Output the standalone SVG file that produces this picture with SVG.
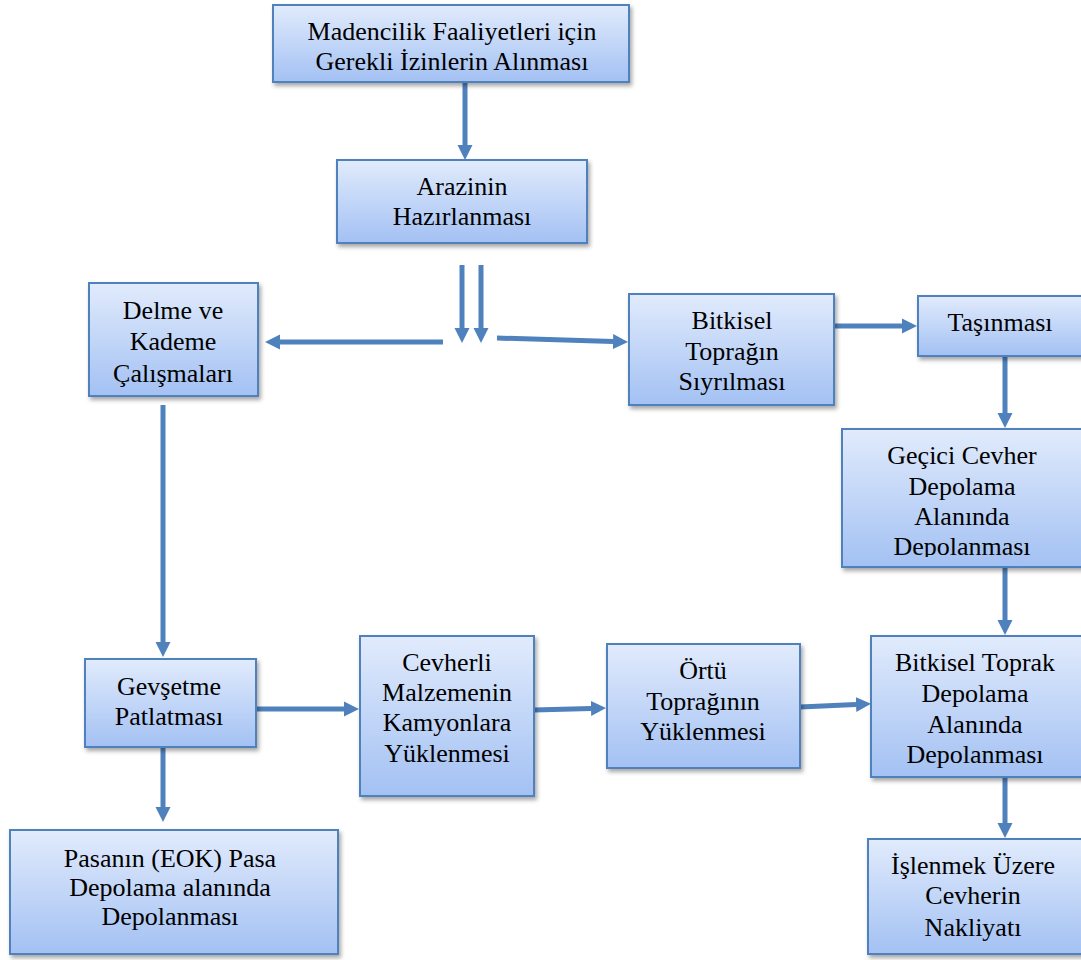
<svg xmlns="http://www.w3.org/2000/svg" width="1081" height="960" viewBox="0 0 1081 960">
  <style>
    .box { fill: url(#boxFill); stroke: #4f81bd; stroke-width: 2; filter: url(#shadow); }
    .lbl { font-size: 26px; fill: #000; text-anchor: middle; }
    .link { fill: none; stroke: #4f81bd; stroke-width: 5; marker-end: url(#head); }
  </style>
  <defs>
    <linearGradient id="boxFill" x1="0" y1="0" x2="0" y2="1">
      <stop offset="0" stop-color="#e1ebfc"/>
      <stop offset="1" stop-color="#a3c1f3"/>
    </linearGradient>
    <filter id="shadow" x="-10%" y="-10%" width="125%" height="130%">
      <feDropShadow dx="2" dy="3" stdDeviation="2" flood-color="#000" flood-opacity="0.35"/>
    </filter>
    <marker id="head" markerUnits="userSpaceOnUse" markerWidth="16" markerHeight="16" viewBox="0 0 16 16" refX="0" refY="8" orient="auto">
      <path d="M0,0.5 L15,8 L0,15.5 z" fill="#4f81bd"/>
    </marker>
    <!-- text area of the temporary-storage box is cut off at its inner margin -->
    <clipPath id="clipGecici">
      <rect x="842" y="429" width="240" height="128"/>
    </clipPath>
  </defs>

  <!-- connectors -->
  <g id="connectors">
    <line class="link" x1="465" y1="83" x2="465" y2="145"/>
    <line class="link" x1="462" y1="265" x2="462" y2="328"/>
    <line class="link" x1="481" y1="265" x2="481" y2="328"/>
    <line class="link" x1="443" y1="342" x2="280" y2="342"/>
    <line class="link" x1="497" y1="338" x2="613" y2="341.5"/>
    <line class="link" x1="834" y1="326" x2="902" y2="326"/>
    <line class="link" x1="1005" y1="356" x2="1005" y2="413"/>
    <line class="link" x1="1005" y1="567" x2="1005" y2="620"/>
    <line class="link" x1="1005" y1="777" x2="1005" y2="823"/>
    <line class="link" x1="163" y1="405" x2="163" y2="642"/>
    <line class="link" x1="256" y1="709" x2="344" y2="709"/>
    <line class="link" x1="163" y1="747" x2="163" y2="807"/>
    <line class="link" x1="534" y1="710" x2="591" y2="708.5"/>
    <line class="link" x1="800" y1="707" x2="856" y2="704.5"/>
  </g>

  <g id="nodes" font-family="Liberation Serif">
  <g id="izinler">
    <rect class="box" x="273" y="5" width="356" height="77"/>
    <text class="lbl" x="452" y="40">Madencilik Faaliyetleri için</text>
    <text class="lbl" x="452" y="70">Gerekli İzinlerin Alınması</text>
  </g>

  <g id="arazi">
    <rect class="box" x="337" y="160" width="250" height="83"/>
    <text class="lbl" x="462" y="195">Arazinin</text>
    <text class="lbl" x="462" y="225">Hazırlanması</text>
  </g>

  <g id="delme">
    <rect class="box" x="89" y="283" width="169" height="113"/>
    <text class="lbl" x="173" y="319">Delme ve</text>
    <text class="lbl" x="173" y="350">Kademe</text>
    <text class="lbl" x="173" y="382">Çalışmaları</text>
  </g>

  <g id="siyirma">
    <rect class="box" x="629" y="294" width="205" height="111"/>
    <text class="lbl" x="732" y="329">Bitkisel</text>
    <text class="lbl" x="732" y="360">Toprağın</text>
    <text class="lbl" x="732" y="390">Sıyrılması</text>
  </g>

  <g id="tasinma">
    <rect class="box" x="918" y="296" width="175" height="60"/>
    <text class="lbl" x="1000" y="331">Taşınması</text>
  </g>

  <g id="gecici">
    <rect class="box" x="842" y="429" width="250" height="138"/>
    <g clip-path="url(#clipGecici)">
      <text class="lbl" x="962" y="464">Geçici Cevher</text>
      <text class="lbl" x="962" y="495">Depolama</text>
      <text class="lbl" x="962" y="525">Alanında</text>
      <text class="lbl" x="962" y="555">Depolanması</text>
    </g>
  </g>

  <g id="gevsetme">
    <rect class="box" x="85" y="659" width="171" height="88"/>
    <text class="lbl" x="169" y="695">Gevşetme</text>
    <text class="lbl" x="169" y="725">Patlatması</text>
  </g>

  <g id="cevherli">
    <rect class="box" x="360" y="636" width="174" height="160"/>
    <text class="lbl" x="447" y="671">Cevherli</text>
    <text class="lbl" x="447" y="701">Malzemenin</text>
    <text class="lbl" x="447" y="731">Kamyonlara</text>
    <text class="lbl" x="447" y="762">Yüklenmesi</text>
  </g>

  <g id="ortu">
    <rect class="box" x="607" y="644" width="193" height="124"/>
    <text class="lbl" x="703" y="679">Örtü</text>
    <text class="lbl" x="703" y="710">Toprağının</text>
    <text class="lbl" x="703" y="740">Yüklenmesi</text>
  </g>

  <g id="bitkisel-depo">
    <rect class="box" x="871" y="636" width="220" height="141"/>
    <text class="lbl" x="975" y="671">Bitkisel Toprak</text>
    <text class="lbl" x="975" y="702">Depolama</text>
    <text class="lbl" x="975" y="733">Alanında</text>
    <text class="lbl" x="975" y="763">Depolanması</text>
  </g>

  <g id="nakliyat">
    <rect class="box" x="868" y="839" width="223" height="115"/>
    <text class="lbl" x="973" y="874">İşlenmek Üzere</text>
    <text class="lbl" x="973" y="904">Cevherin</text>
    <text class="lbl" x="973" y="936">Nakliyatı</text>
  </g>

  <g id="pasa">
    <rect class="box" x="10" y="830" width="328" height="124"/>
    <text class="lbl" x="170" y="867">Pasanın (EOK) Pasa</text>
    <text class="lbl" x="170" y="896">Depolama alanında</text>
    <text class="lbl" x="170" y="925">Depolanması</text>
  </g>
  </g>
</svg>
